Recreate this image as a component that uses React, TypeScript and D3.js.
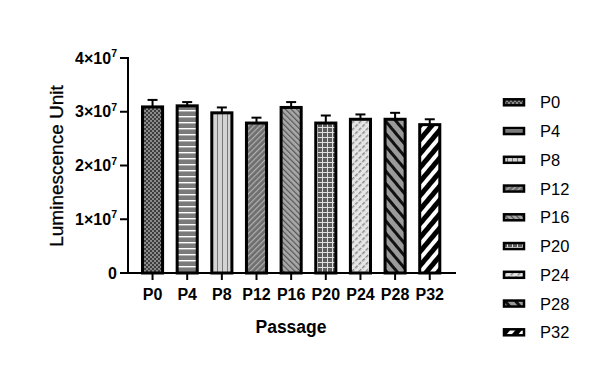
import React from "react";
import * as d3 from "d3";

const categories = ["P0", "P4", "P8", "P12", "P16", "P20", "P24", "P28", "P32"];
const means = [3.09e7, 3.11e7, 2.98e7, 2.79e7, 3.08e7, 2.79e7, 2.86e7, 2.86e7, 2.76e7];
const errors = [0.13e7, 0.07e7, 0.1e7, 0.1e7, 0.1e7, 0.14e7, 0.09e7, 0.12e7, 0.1e7];
const yTicks = [0, 1e7, 2e7, 3e7, 4e7];
const yTickMantissa = ["0", "1", "2", "3", "4"];

const W = 600, H = 381;
const left = 128, right = 456, top = 58, bottom = 273;

function Patterns() {
  return (
    <defs>
      <pattern id="p0" width="4" height="4" patternUnits="userSpaceOnUse">
        <rect width="4" height="4" fill="#8a8a8a" />
        <rect width="2" height="2" fill="#3e3e3e" />
        <rect x="2" y="2" width="2" height="2" fill="#3e3e3e" />
      </pattern>
      <pattern id="p1" width="6" height="6" patternUnits="userSpaceOnUse">
        <rect width="6" height="6" fill="#7a7a7a" />
        <rect y="2" width="6" height="1.4" fill="#ffffff" />
      </pattern>
      <pattern id="p2" width="5" height="5" patternUnits="userSpaceOnUse">
        <rect width="5" height="5" fill="#d4d4d4" />
        <rect x="2" width="1" height="5" fill="#7a7a7a" />
      </pattern>
      <pattern id="p3" width="4" height="4" patternUnits="userSpaceOnUse" patternTransform="rotate(45)">
        <rect width="4" height="4" fill="#6e6e6e" />
        <rect width="1.2" height="4" fill="#b0b0b0" />
      </pattern>
      <pattern id="p4" width="4" height="4" patternUnits="userSpaceOnUse" patternTransform="rotate(-45)">
        <rect width="4" height="4" fill="#a8a8a8" />
        <rect width="1.2" height="4" fill="#555" />
      </pattern>
      <pattern id="p5" width="5" height="5" patternUnits="userSpaceOnUse">
        <rect width="5" height="5" fill="#5c5c5c" />
        <rect y="2" width="5" height="1" fill="#e0e0e0" />
        <rect x="2" width="1" height="5" fill="#e0e0e0" />
      </pattern>
      <pattern id="p6" width="5" height="5" patternUnits="userSpaceOnUse" patternTransform="rotate(45)">
        <rect width="5" height="5" fill="#e6e6e6" />
        <rect width="1.5" height="3.5" fill="#8a8a8a" />
      </pattern>
      <pattern id="p7" width="8" height="8" patternUnits="userSpaceOnUse" patternTransform="rotate(-40)">
        <rect width="8" height="8" fill="#9a9a9a" />
        <rect width="3" height="8" fill="#111" />
      </pattern>
      <pattern id="p8" width="9" height="9" patternUnits="userSpaceOnUse" patternTransform="rotate(40)">
        <rect width="9" height="9" fill="#000" />
        <rect width="4" height="9" fill="#fff" />
      </pattern>
    </defs>
  );
}

export default function App() {
  const x = d3.scaleBand().domain(categories).range([132.1, 450.2]).paddingInner(0.42).paddingOuter(0.3);
  const y = d3.scaleLinear().domain([0, 4e7]).range([bottom, top]);
  const bw = x.bandwidth();
  const font = "Liberation Sans, Arial, sans-serif";
  return (
    <svg width={W} height={H} style={{ position: "absolute", left: 0, top: 0, background: "#fff" }} fontFamily={font}>
      <Patterns />
      {categories.map((c, i) => {
        const cx = (x(c) as number) + bw / 2;
        const yt = y(means[i]);
        const ye = y(means[i] + errors[i]);
        return (
          <g key={c}>
            <line x1={cx} x2={cx} y1={yt} y2={ye} stroke="#000" strokeWidth={2} />
            <line x1={cx - 5} x2={cx + 5} y1={ye} y2={ye} stroke="#000" strokeWidth={2} />
            <rect x={x(c) as number} y={yt} width={bw} height={bottom - yt} fill={`url(#p${i})`} stroke="#000" strokeWidth={3} />
          </g>
        );
      })}
      {/* y axis */}
      <line x1={left} x2={left} y1={top - 1} y2={bottom + 1} stroke="#000" strokeWidth={2} />
      {yTicks.map((t, i) => (
        <g key={t}>
          <line x1={left - 8} x2={left} y1={y(t)} y2={y(t)} stroke="#000" strokeWidth={2} />
          {i === 0 ? (
            <text x={left - 11} y={y(t) + 5.5} textAnchor="end" fontSize={16} fontWeight="bold">0</text>
          ) : (
            <text x={left - 11} y={y(t) + 5.5} textAnchor="end" fontSize={16} fontWeight="bold">
              {yTickMantissa[i]}×10<tspan fontSize={10.5} dy={-6.5}>7</tspan>
            </text>
          )}
        </g>
      ))}
      {/* x axis */}
      <line x1={left} x2={right} y1={bottom} y2={bottom} stroke="#000" strokeWidth={2} />
      {categories.map((c) => {
        const cx = (x(c) as number) + bw / 2;
        return (
          <g key={c}>
            <line x1={cx} x2={cx} y1={bottom} y2={bottom + 7} stroke="#000" strokeWidth={2} />
            <text x={cx} y={bottom + 27} textAnchor="middle" fontSize={16} fontWeight="bold">{c}</text>
          </g>
        );
      })}
      <text x={291} y={333} textAnchor="middle" fontSize={17.5} fontWeight="bold">Passage</text>
      <text transform={`translate(63,166) rotate(-90)`} textAnchor="middle" fontSize={19} stroke="#000" strokeWidth={0.3}>Luminescence Unit</text>
      {/* legend */}
      {categories.map((c, i) => {
        const ly = 108.3 + i * 28.75;
        return (
          <g key={c}>
            <rect x={504} y={ly - 9} width={20} height={6} fill={`url(#p${i})`} stroke="#000" strokeWidth={2.5} />
            <text x={540} y={ly} fontSize={16.5}>{c}</text>
          </g>
        );
      })}
    </svg>
  );
}
